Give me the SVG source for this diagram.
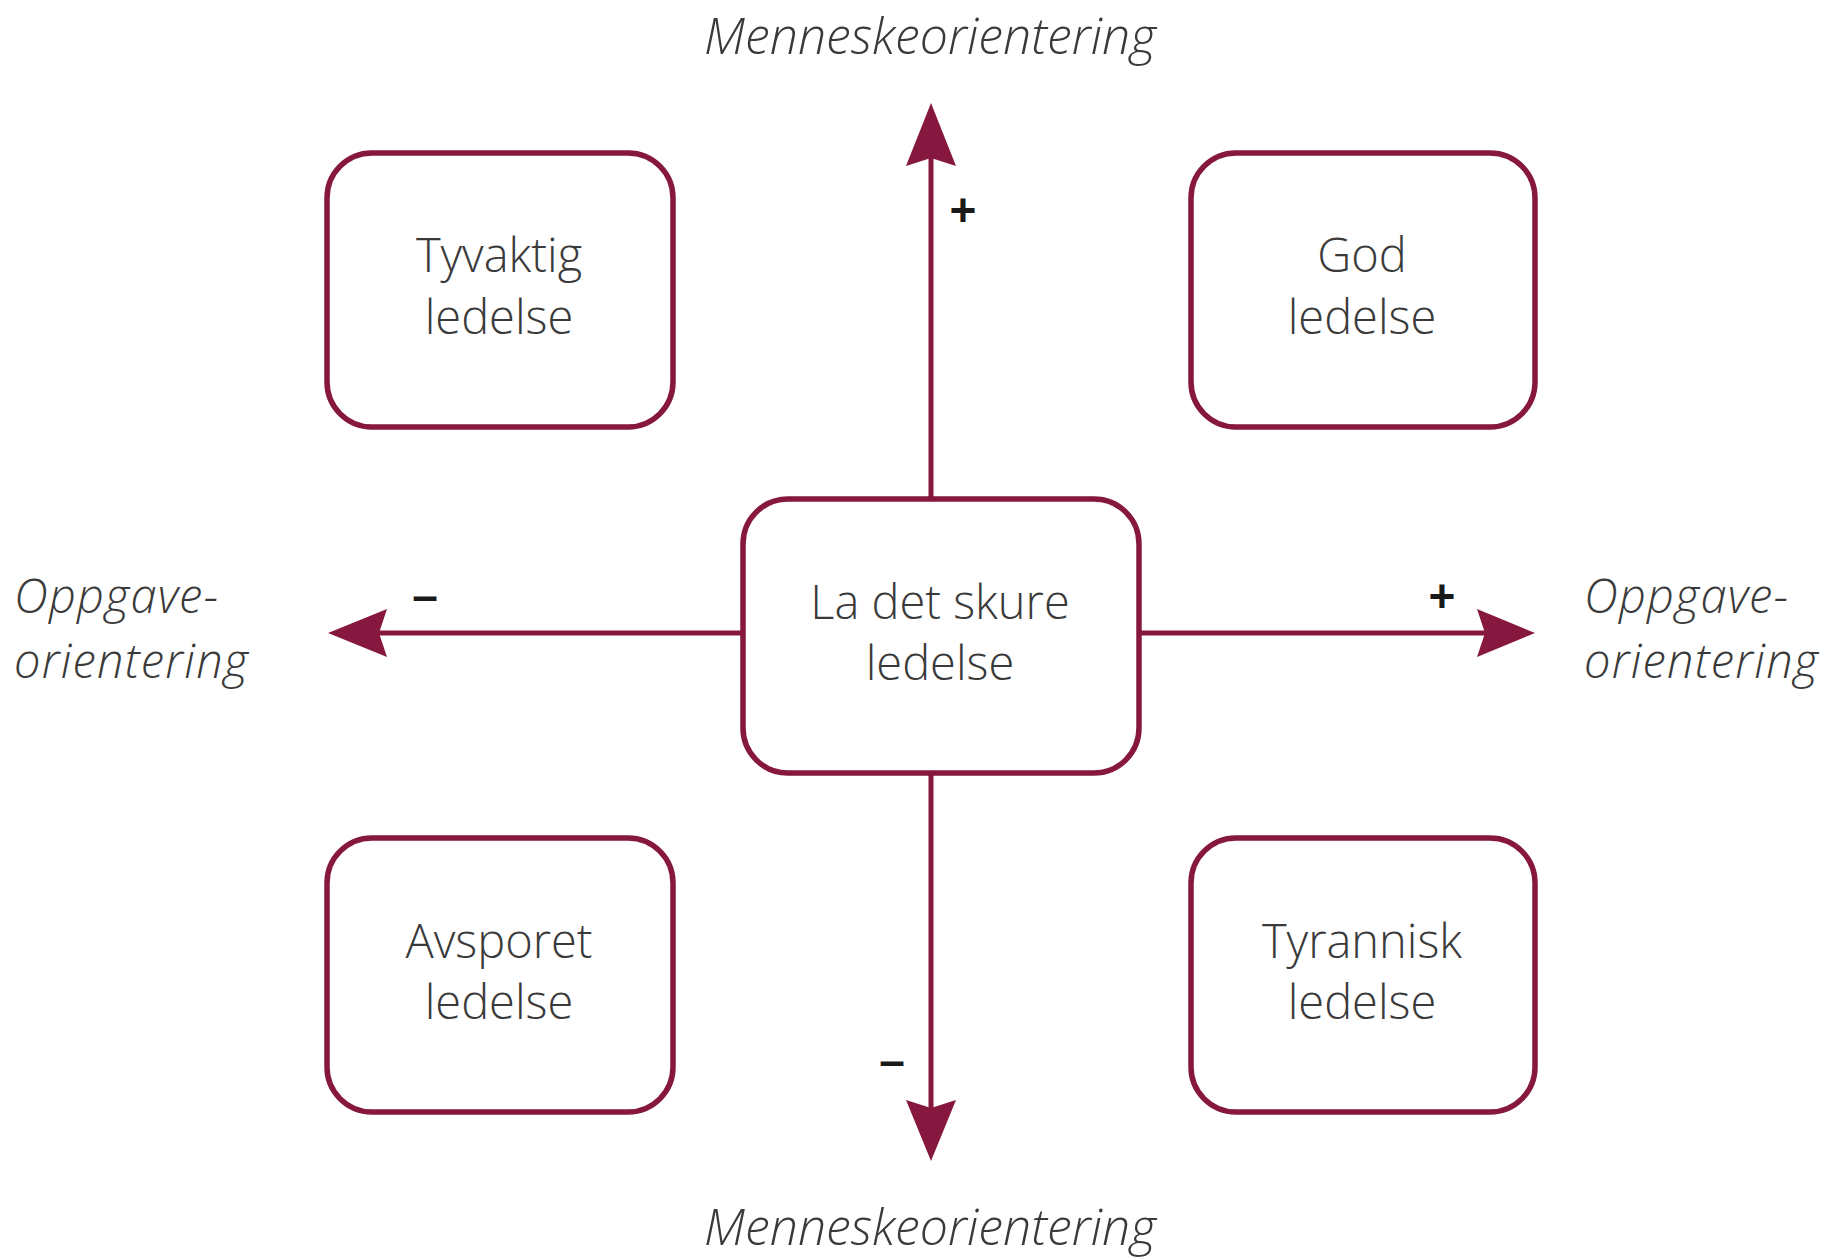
<svg xmlns="http://www.w3.org/2000/svg" width="1829" height="1258" viewBox="0 0 1829 1258">
<defs>
<style>
.box{fill:#fff;stroke:#86173f;stroke-width:5.5}
.ax{stroke:#86173f;stroke-width:5;fill:none}
.head{fill:#86173f}
.t{font-family:"Open Sans","Liberation Sans",sans-serif;font-weight:300;font-size:47px;fill:#3a3a3a;text-anchor:middle}
.lab{font-family:"Open Sans","Liberation Sans",sans-serif;font-weight:300;font-style:italic;font-size:50px;fill:#3a3a3a}
.side{font-size:47px;letter-spacing:1.2px}
.sign{font-family:"Liberation Sans",sans-serif;font-weight:bold;font-size:46px;fill:#1a1a1a;text-anchor:middle}
</style>
</defs>
<rect width="1829" height="1258" fill="#fff"/>
<g id="connectors">
<line class="ax" x1="931" y1="499" x2="931" y2="150"/>
<polygon class="head" points="931,103 906,166 931,158 956,166"/>
<line class="ax" x1="931" y1="773" x2="931" y2="1115"/>
<polygon class="head" points="931,1161 906,1100 931,1108 956,1100"/>
<line class="ax" x1="743" y1="633" x2="370" y2="633"/>
<polygon class="head" points="328,633 387,609 379,633 387,657"/>
<line class="ax" x1="1139" y1="633" x2="1495" y2="633"/>
<polygon class="head" points="1535,633 1477,609 1485,633 1477,657"/>
</g>
<g id="n-tyvaktig">
<rect class="box" x="327" y="153" width="346" height="274" rx="45"/>
<text class="t" x="499" y="272">Tyvaktig</text>
<text class="t" x="499" y="334">ledelse</text>
</g>
<g id="n-god">
<rect class="box" x="1191" y="153" width="344" height="274" rx="45"/>
<text class="t" x="1362" y="272">God</text>
<text class="t" x="1362" y="334">ledelse</text>
</g>
<g id="n-skure">
<rect class="box" x="743" y="499" width="396" height="274" rx="45"/>
<text class="t" x="940" y="619">La det skure</text>
<text class="t" x="940" y="680">ledelse</text>
</g>
<g id="n-avsporet">
<rect class="box" x="327" y="838" width="346" height="274" rx="45"/>
<text class="t" x="499" y="958">Avsporet</text>
<text class="t" x="499" y="1019">ledelse</text>
</g>
<g id="n-tyrannisk">
<rect class="box" x="1191" y="838" width="344" height="274" rx="45"/>
<text class="t" x="1362" y="958">Tyrannisk</text>
<text class="t" x="1362" y="1019">ledelse</text>
</g>
<g id="labels">
<text class="lab" x="930" y="54" text-anchor="middle">Menneskeorientering</text>
<text class="lab" x="930" y="1245" text-anchor="middle">Menneskeorientering</text>
<text class="lab side" x="14" y="613">Oppgave-</text>
<text class="lab side" x="14" y="678">orientering</text>
<text class="lab side" x="1584" y="613">Oppgave-</text>
<text class="lab side" x="1584" y="678">orientering</text>
<text class="sign" x="963" y="226">+</text>
<text class="sign" x="1442" y="612">+</text>
<text class="sign" x="425" y="611">–</text>
<text class="sign" x="892" y="1076">–</text>
</g>
</svg>
